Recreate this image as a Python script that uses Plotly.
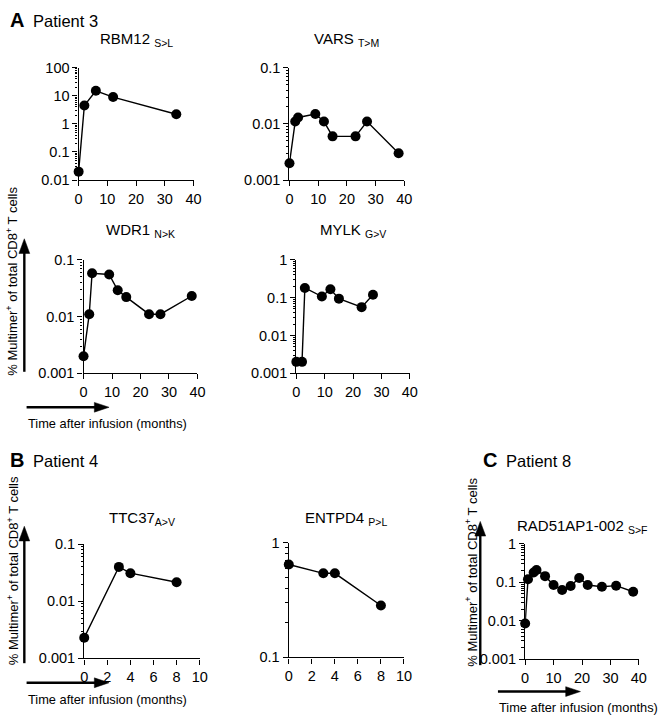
import math
import plotly.graph_objects as go

W, H = 667, 724

# ---------------- data ----------------
rbm12_months = [0, 2, 6, 12, 34]
rbm12_pct = [0.02, 4.5, 15, 9, 2.2]

vars_months = [0, 2, 3, 9, 12, 15, 23, 27, 38]
vars_pct = [0.002, 0.011, 0.013, 0.015, 0.011, 0.006, 0.006, 0.011, 0.003]

wdr1_months = [0, 2, 3, 9, 12, 15, 23, 27, 38]
wdr1_pct = [0.002, 0.011, 0.058, 0.055, 0.029, 0.022, 0.011, 0.011, 0.023]

mylk_months = [0, 2, 3, 9, 12, 15, 23, 27]
mylk_pct = [0.002, 0.002, 0.18, 0.107, 0.166, 0.094, 0.056, 0.119]

ttc37_months = [0, 3, 4, 8]
ttc37_pct = [0.0023, 0.04, 0.031, 0.0215]

entpd4_months = [0, 3, 4, 8]
entpd4_pct = [0.645, 0.54, 0.54, 0.283]

rad51_months = [0, 1, 3, 4, 7, 10, 13, 16, 19, 22, 27, 32, 38]
rad51_pct = [0.0085, 0.12, 0.18, 0.21, 0.145, 0.085, 0.063, 0.08, 0.13, 0.085, 0.077, 0.082, 0.057]

x_ticks_40 = [0, 10, 20, 30, 40]
x_ticks_10 = [0, 2, 4, 6, 8, 10]
decade_vals = [0.001, 0.01, 0.1, 1, 10, 100]
decade_text = ["0.001", "0.01", "0.1", "1", "10", "100"]

titles = ["RBM12 <sub>S&gt;L</sub>", "VARS <sub>T&gt;M</sub>", "WDR1 <sub>N&gt;K</sub>",
          "MYLK <sub>G&gt;V</sub>", "TTC37<sub>A&gt;V</sub>", "ENTPD4 <sub>P&gt;L</sub>",
          "RAD51AP1-002 <sub>S&gt;F</sub>"]
y_label = "% Multimer<sup>+</sup> of total CD8<sup>+</sup> T cells"
x_label = "Time after infusion (months)"

# ---------------- layout geometry (pixels) ----------------
FONT = "Arial, 'Liberation Sans', sans-serif"

def px(x):
    return x / W

def py(y):
    return 1 - y / H

panels = [
    # months, pct, xbox, ybox(top,bottom), yrange(log), xticks, title_y
    (rbm12_months, rbm12_pct, (76, 193), (61, 176), (-2, 2), x_ticks_40, 32),
    (vars_months, vars_pct, (290.7, 407.7), (61, 176), (-3, -1), x_ticks_40, 32),
    (wdr1_months, wdr1_pct, (81, 197), (257.5, 373.5), (-3, -1), x_ticks_40, 228),
    (mylk_months, mylk_pct, (297.7, 413.3), (257.5, 373.5), (-3, 0), x_ticks_40, 228),
    (ttc37_months, ttc37_pct, (81.7, 199.3), (548.3, 665), (-3, -1), x_ticks_10, 522),
    (entpd4_months, entpd4_pct, (290, 407.3), (546.7, 664), (-1, 0), x_ticks_10, 522),
    (rad51_months, rad51_pct, (530.7, 646.5), (548, 666), (-3, 0), x_ticks_40, 530),
]

fig = go.Figure()
annotations = []
shapes = []

for i, (mx, vy, xb, yb, yr, xt, ty) in enumerate(panels):
    n = "" if i == 0 else str(i + 1)
    fig.add_trace(go.Scatter(
        x=mx, y=vy, mode="lines+markers",
        line=dict(color="black", width=1.4),
        marker=dict(color="black", size=10),
        cliponaxis=False, showlegend=False,
        xaxis="x" + n, yaxis="y" + n,
    ))
    minor_vals = []
    for e in range(yr[0], yr[1]):
        for k in range(2, 10):
            minor_vals.append(k * 10 ** e)
    tv = [v for v in decade_vals if yr[0] - 1e-9 <= math.log10(v) <= yr[1] + 1e-9]
    tt = [decade_text[decade_vals.index(v)] for v in tv]
    fig.update_layout(**{
        "xaxis" + n: dict(
            domain=[px(xb[0]), px(xb[1])], anchor="y" + n,
            range=[xt[0], xt[-1]], tickmode="array", tickvals=xt,
            showline=True, linecolor="black", linewidth=1.4,
            ticks="outside", ticklen=5, tickwidth=1.4, tickcolor="black",
            showgrid=False, zeroline=False,
            tickfont=dict(family=FONT, size=14.5, color="black"),
        ),
        "yaxis" + n: dict(
            domain=[py(yb[1]), py(yb[0])], anchor="x" + n, type="log",
            range=list(yr), tickmode="array", tickvals=tv, ticktext=tt,
            showline=True, linecolor="black", linewidth=1.4,
            ticks="outside", ticklen=5, tickwidth=1.4, tickcolor="black",
            showgrid=False, zeroline=False,
            minor=dict(tickmode="array", tickvals=minor_vals, ticks="outside",
                       ticklen=2.5, tickwidth=1, tickcolor="black", showgrid=False),
            tickfont=dict(family=FONT, size=14.5, color="black"),
        ),
    })
    annotations.append(dict(
        x=px((xb[0] + xb[1]) / 2), y=py(ty), xref="paper", yref="paper",
        text=titles[i], showarrow=False, xanchor="center", yanchor="middle",
        font=dict(family=FONT, size=15, color="black"),
    ))

# panel letters
for letter, lx, tx, ly, label in [("A", 4, 27, 12, "Patient 3"),
                                  ("B", 4, 27, 462, "Patient 4"),
                                  ("C", 486, 509, 462, "Patient 8")]:
    annotations.append(dict(x=px(lx), y=py(ly), xref="paper", yref="paper", text="<b>" + letter + "</b>",
                            showarrow=False, xanchor="left", yanchor="middle",
                            font=dict(family=FONT, size=20, color="black")))
    annotations.append(dict(x=px(tx), y=py(ly + 1), xref="paper", yref="paper", text=label,
                            showarrow=False, xanchor="left", yanchor="middle",
                            font=dict(family=FONT, size=16.5, color="black")))

# y-axis labels with arrows
for tx, tyc, ax, ytip, ybot in [(8, 279, 20.7, 236, 372),
                                (9, 575, 20.7, 530, 670),
                                (476, 577, 485, 525, 672)]:
    annotations.append(dict(x=px(tx), y=py(tyc), xref="paper", yref="paper", text=y_label,
                            textangle=-90, showarrow=False, xanchor="center", yanchor="middle",
                            font=dict(family=FONT, size=13, color="black")))
    shapes.append(dict(type="line", xref="paper", yref="paper", x0=px(ax), x1=px(ax),
                       y0=py(ybot), y1=py(ytip + 12), line=dict(color="black", width=2.4)))
    shapes.append(dict(type="path", xref="paper", yref="paper",
                       path=f"M {px(ax - 5.5)},{py(ytip + 15)} L {px(ax + 5.5)},{py(ytip + 15)} L {px(ax)},{py(ytip)} Z",
                       fillcolor="black", line=dict(color="black", width=0.5)))

# x-axis labels with arrows
for x0, xtip, ay, tyc in [(23, 107, 408.3, 425), (23, 107, 690, 707), (503, 587, 699, 715)]:
    shapes.append(dict(type="line", xref="paper", yref="paper", x0=px(x0), x1=px(xtip - 12),
                       y0=py(ay), y1=py(ay), line=dict(color="black", width=2.4)))
    shapes.append(dict(type="path", xref="paper", yref="paper",
                       path=f"M {px(xtip - 15)},{py(ay - 5)} L {px(xtip - 15)},{py(ay + 5)} L {px(xtip)},{py(ay)} Z",
                       fillcolor="black", line=dict(color="black", width=0.5)))
    annotations.append(dict(x=px(x0 - 1), y=py(tyc), xref="paper", yref="paper", text=x_label,
                            showarrow=False, xanchor="left", yanchor="middle",
                            font=dict(family=FONT, size=12.8, color="black")))

fig.update_layout(
    width=W, height=H, margin=dict(l=0, r=0, t=0, b=0),
    paper_bgcolor="white", plot_bgcolor="white",
    annotations=annotations, shapes=shapes,
    font=dict(family=FONT, color="black"),
)

fig.write_html(
    "out.html",
    config={"displayModeBar": False},
    post_script="document.body.style.margin='0';document.body.style.padding='0';"
                "document.documentElement.style.overflow='hidden';",
)
